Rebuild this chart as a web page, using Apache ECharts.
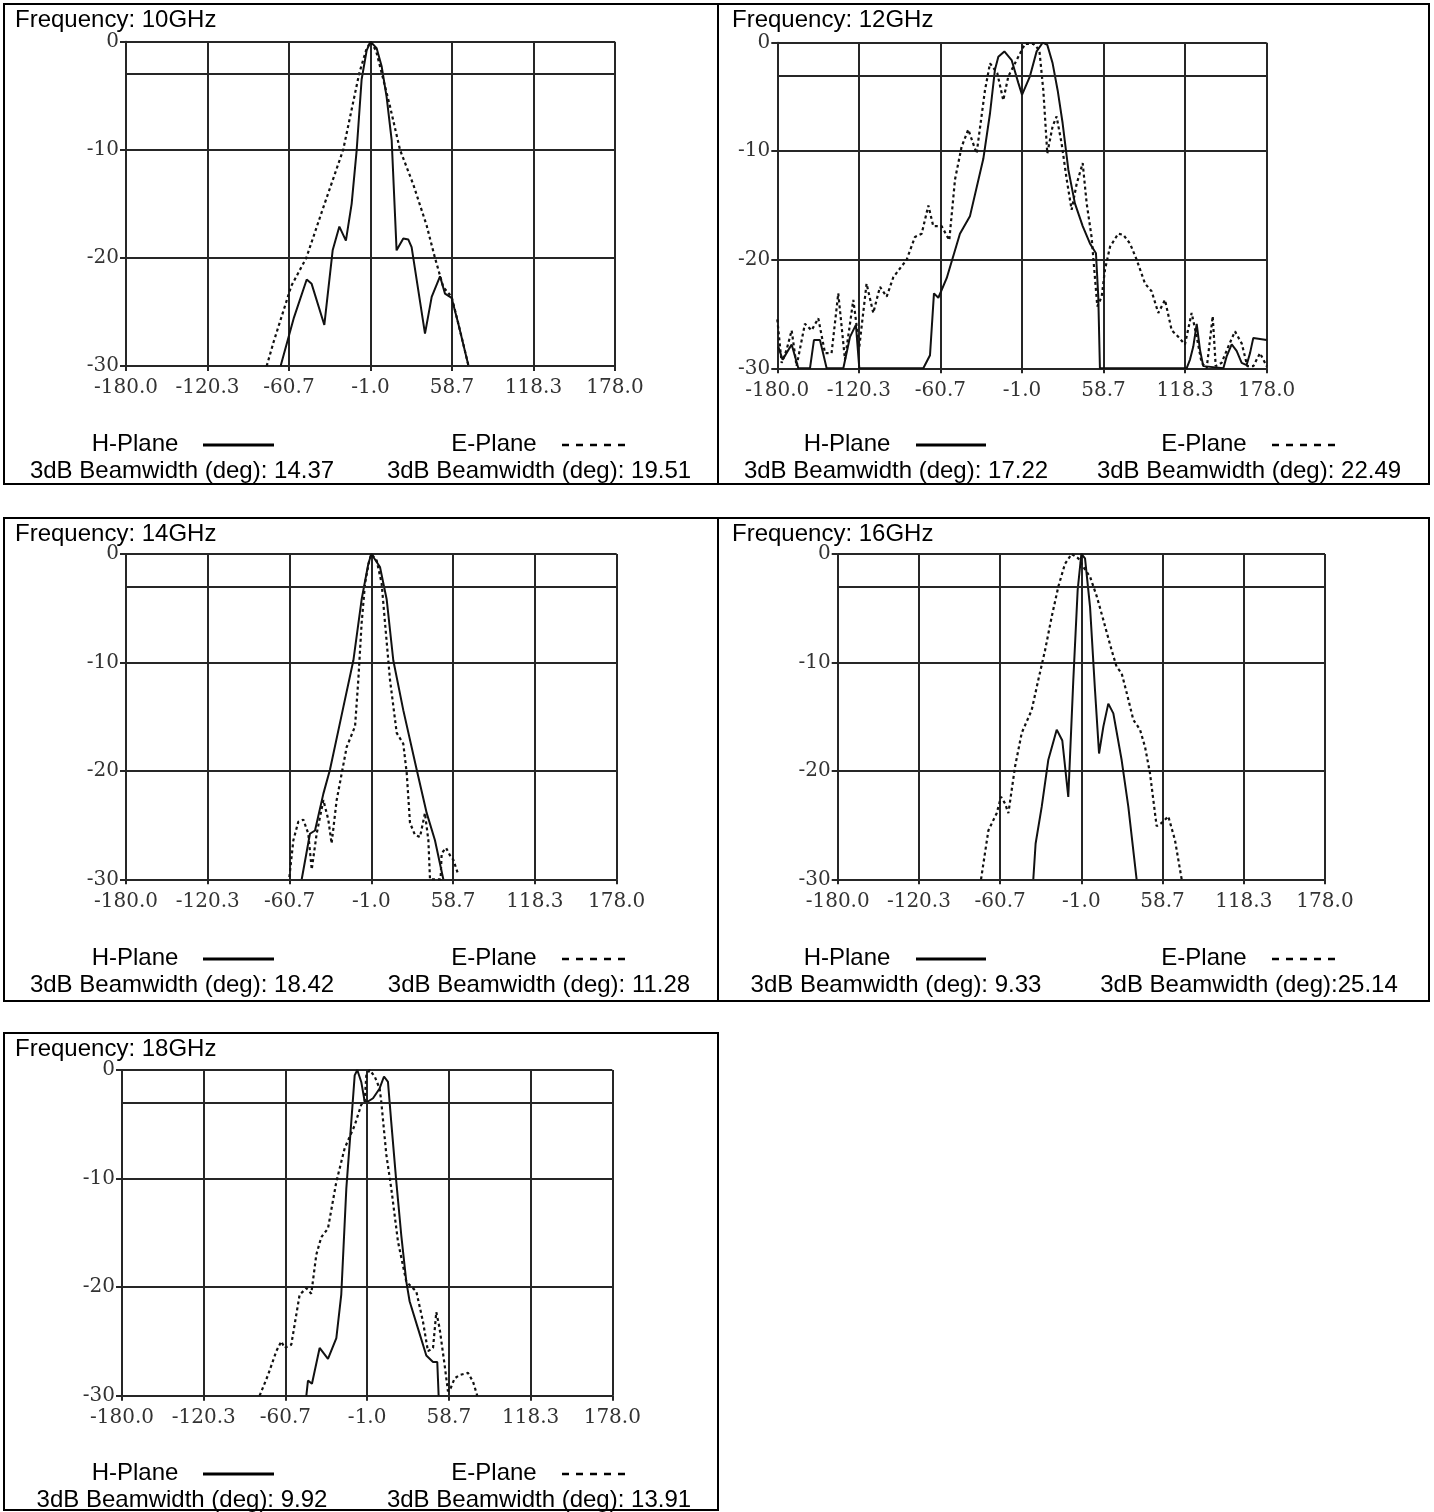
<!DOCTYPE html>
<html><head><meta charset="utf-8">
<script src="https://cdn.jsdelivr.net/npm/echarts@6/dist/echarts.min.js"></script>
<style>html,body{margin:0;padding:0;background:#fff}#c{width:1434px;height:1512px}</style>
</head><body><div id="c"></div>
<script>
// ---------- data ----------
const xTickLabels = ['-180.0', '-120.3', '-60.7', '-1.0', '58.7', '118.3', '178.0'];
const xMin = -180, xMax = 178;
const yMin = -30, yMax = 0, yStep = 10;
const halfPowerLevel = -3;

const titles = ['Frequency: 10GHz', 'Frequency: 12GHz', 'Frequency: 14GHz', 'Frequency: 16GHz', 'Frequency: 18GHz'];
const hLabels = ['3dB Beamwidth (deg): 14.37', '3dB Beamwidth (deg): 17.22', '3dB Beamwidth (deg): 18.42', '3dB Beamwidth (deg): 9.33', '3dB Beamwidth (deg): 9.92'];
const eLabels = ['3dB Beamwidth (deg): 19.51', '3dB Beamwidth (deg): 22.49', '3dB Beamwidth (deg): 11.28', '3dB Beamwidth (deg):25.14', '3dB Beamwidth (deg): 13.91'];

// [angle deg, level dB]
const h10 = [[-66.8,-30],[-57,-25.5],[-47.7,-22.0],[-44.1,-22.4],[-34.8,-26.2],[-28.7,-19.3],[-23.8,-17.1],[-19.0,-18.4],[-14.8,-15.0],[-11.1,-10.0],[-7.5,-3.5],[-3.8,-0.8],[-1,0],[3.5,-0.6],[7.2,-2.3],[10.8,-5.1],[14.5,-9.1],[18.1,-19.3],[23.0,-18.2],[26.7,-18.3],[29.1,-19.0],[38.9,-27.0],[43.8,-23.6],[49.9,-21.7],[53.5,-23.3],[58.4,-23.7],[63.3,-26.1],[70.6,-29.9]];
const e10 = [[-77,-30],[-72,-27.8],[-65,-25],[-59,-22.6],[-48,-20],[-36,-15.5],[-21,-10],[-9.2,-2.9],[-4,-0.7],[-1,0],[3,-0.8],[7.2,-2.9],[13.3,-6],[20.6,-10],[30.3,-13.2],[40.1,-17],[46.2,-20],[52.3,-22.7],[58.4,-23.6],[64.5,-26.7],[70.6,-29.9]];

const h12 = [[-179.3,-28.0],[-176.1,-29.2],[-169.5,-27.8],[-164.6,-30],[-156.1,-30],[-153.2,-27.4],[-148.8,-27.4],[-143.9,-30],[-131.7,-30],[-126.8,-27.1],[-122.5,-26.0],[-120.0,-30],[-73.2,-30],[-68.3,-28.8],[-65.4,-23.1],[-62.2,-23.5],[-56.1,-21.7],[-46.4,-17.6],[-39.1,-16.0],[-29.3,-10.7],[-24.4,-6.5],[-20.8,-2.5],[-18.3,-1.3],[-13.9,-0.8],[-8.6,-1.6],[-3.7,-3.7],[-1,-4.8],[4.8,-3.1],[9.7,-0.8],[14.1,0],[17.5,-0.2],[21.4,-1.9],[25.1,-4.4],[28.7,-7.4],[32.9,-11.7],[37.7,-14.8],[43.4,-16.9],[48.7,-18.5],[53.1,-19.4],[54.8,-23.4],[56.0,-30],[119.4,-30],[121.9,-29.2],[124.3,-28.0],[126.8,-25.9],[129.2,-28.3],[131.6,-29.8],[146.3,-30],[148.7,-28.9],[152.4,-27.8],[156.0,-28.4],[159.7,-29.5],[163.3,-29.7],[165.8,-28.6],[168.2,-27.2],[178,-27.4]];
const e12 = [[-180,-25.5],[-176.8,-29.5],[-173.2,-28.3],[-169.5,-26.5],[-165.9,-29.8],[-159.8,-25.9],[-154.9,-26.5],[-150.0,-25.4],[-145.1,-28.6],[-140.3,-28.6],[-135.4,-23.1],[-130.5,-29.2],[-124.4,-23.7],[-120.0,-28.0],[-114.7,-22.2],[-109.8,-24.9],[-104.9,-22.5],[-100.0,-23.4],[-95.1,-21.6],[-85.4,-20.0],[-79.3,-17.9],[-74.4,-17.6],[-69.5,-15.0],[-65.9,-16.9],[-59.8,-16.9],[-54.2,-18.2],[-50.0,-12.6],[-45.2,-9.6],[-40.3,-8.0],[-34.2,-10.2],[-28.1,-4.4],[-24.4,-1.9],[-19.1,-2.8],[-14.7,-5.3],[-11.0,-3.1],[-4.9,-1.6],[1.2,-0.1],[7.3,-0.1],[11.7,-0.7],[14.6,-4.4],[17.5,-10.2],[21.4,-7.7],[24.3,-6.8],[28.0,-9.3],[31.7,-12.6],[35.3,-15.4],[39.0,-13.0],[43.4,-11.1],[46.3,-14.8],[49.9,-17.9],[54.1,-24.3],[57.3,-23.4],[59.7,-20.9],[63.4,-18.8],[69.4,-17.6],[73.1,-17.7],[78.0,-18.5],[82.9,-20.0],[89.0,-22.2],[93.8,-22.9],[98.7,-24.9],[103.6,-23.7],[108.5,-26.5],[113.3,-27.1],[118.2,-27.8],[123.1,-24.9],[126.8,-27.1],[130.4,-29.5],[134.1,-30],[138.5,-25.2],[140.7,-29.8],[145.0,-29.5],[149.9,-28.0],[154.8,-26.6],[159.7,-27.7],[163.8,-29.8],[168.2,-29.8],[173.1,-28.6],[178,-29.8]];

const h14 = [[-51.8,-30],[-45.8,-25.8],[-42.1,-25.5],[-36.0,-22.1],[-31.2,-19.9],[-21.4,-14.1],[-14.1,-9.8],[-8.1,-4.2],[-3.2,-0.9],[-1,0],[5.3,-1.2],[10.2,-4.2],[15.0,-9.8],[22.3,-14.4],[32.1,-19.9],[39.4,-23.9],[45.4,-26.4],[51.5,-30]];
const e14 = [[-60.8,-29.8],[-57.9,-26.4],[-54.3,-24.7],[-50.6,-24.5],[-47.0,-25.8],[-44.5,-29.1],[-40.9,-25.8],[-36.0,-22.7],[-32.4,-24.5],[-30.0,-26.7],[-26.3,-22.7],[-19.0,-17.8],[-12.9,-15.9],[-10.5,-11.6],[-8.1,-6.4],[-5.6,-2.7],[-2.5,-0.6],[-1,0],[2.9,-0.6],[6.5,-2.7],[9.0,-6.4],[12.6,-11.6],[17.5,-16.5],[22.3,-17.5],[24.8,-20.2],[27.2,-24.8],[30.8,-25.9],[34.5,-26.1],[38.1,-23.9],[40.6,-26.4],[41.8,-30],[49.5,-30],[50.3,-27.6],[53.5,-27.1],[56.4,-27.8],[58.8,-28.2],[62.5,-29.6]];

const h16 = [[-36.3,-30],[-34.6,-26.7],[-30.1,-23.3],[-25.3,-19.0],[-19.1,-16.2],[-15.0,-17.2],[-10.6,-22.4],[-6.9,-11.6],[-3.7,-3.3],[-1,0],[1.7,-0.4],[5.4,-4.9],[9.0,-12.5],[12.0,-18.4],[15.2,-15.9],[18.8,-13.8],[22.5,-14.7],[28.6,-19.0],[33.5,-23.3],[39.6,-30]];
const e16 = [[-74.7,-30],[-69.3,-25.5],[-63.2,-23.9],[-60.0,-22.4],[-57.1,-23.0],[-54.6,-23.9],[-49.7,-19.6],[-44.8,-16.5],[-37.5,-14.4],[-32.6,-11.6],[-27.7,-8.9],[-22.8,-5.8],[-17.9,-3.0],[-13.0,-0.9],[-8.1,0],[-3.2,-0.4],[0.5,-1.2],[5.4,-2.1],[10.3,-3.9],[15.2,-6.1],[21.3,-8.9],[24.9,-10.4],[28.6,-11.0],[32.3,-12.8],[37.2,-15.3],[42.1,-16.2],[45.8,-17.8],[49.4,-20.2],[54.3,-25.1],[58.0,-24.8],[62.9,-24.2],[67.8,-26.4],[72.7,-30]];

const h18 = [[-45.4,-30],[-44.2,-28.6],[-41.3,-28.9],[-35.7,-25.6],[-29.6,-26.6],[-23.5,-24.7],[-19.9,-20.7],[-16.2,-10.9],[-12.6,-4.8],[-10.1,-0.5],[-8.2,0],[-5.3,-1.1],[-2.8,-2.9],[-0.4,-2.9],[3.3,-2.6],[8.1,-1.7],[11.3,-0.6],[14.2,-1.1],[16.6,-4.8],[20.3,-10.3],[23.9,-15.2],[27.6,-19.5],[30.0,-21.3],[36.1,-23.8],[42.2,-26.3],[47.1,-26.9],[50.2,-26.9],[51.2,-30]];
const e18 = [[-79.5,-30],[-73.4,-28.1],[-67.3,-25.9],[-63.7,-25.0],[-61.2,-25.6],[-56.4,-25.3],[-50.3,-20.7],[-45.4,-20.1],[-41.8,-20.6],[-38.1,-17.0],[-34.5,-15.4],[-29.6,-14.6],[-23.5,-10.3],[-17.4,-7.2],[-10.1,-5.1],[-5.3,-3.2],[-2.8,-2.9],[-1.6,-0.5],[0.8,0],[4.5,-0.6],[8.1,-1.7],[9.3,-2.9],[13.0,-7.8],[16.6,-10.9],[21.5,-15.8],[27.6,-19.5],[34.9,-20.4],[39.8,-23.2],[43.4,-25.9],[47.1,-25.6],[49.5,-22.3],[51.9,-23.8],[55.6,-27.2],[58.0,-29.6],[60.0,-29.3],[62.9,-28.4],[66.5,-28.1],[72.6,-27.9],[76.3,-28.7],[79.4,-30]];

const hSeries = [h10, h12, h14, h16, h18];
const eSeries = [e10, e12, e14, e16, e18];

// ---------- layout / style ----------
const layout = [
  { box: [4, 4, 714, 480],    grid: [126, 41.7, 489, 324.3],   right: false },
  { box: [718, 4, 711, 480],  grid: [777.3, 42.7, 489.4, 325.6], right: true },
  { box: [4, 518, 714, 483],  grid: [126, 554, 490.7, 325.3],  right: false },
  { box: [718, 518, 711, 483], grid: [837.7, 554, 487.3, 325.3], right: true },
  { box: [4, 1033, 714, 477], grid: [122, 1070, 490.3, 325.7], right: false }
];
const legendLeft  = { title: 11, h: 131, s1: 199, s2: 270, e: 490, d1: 558, d2: 622, bw1: 178, bw2: 535 };
const legendRight = { title: 14, h: 129, s1: 198, s2: 268, e: 486, d1: 554, d2: 619, bw1: 178, bw2: 531 };

const gridColor = '#262626';
const gridWidth = 2;
const textFont = '24px "Liberation Sans", Arial, sans-serif';
const tickFont = 'DejaVu Serif';
const tickSize = 20;

const grids = [], xAxes = [], yAxes = [], series = [], graphics = [];

function txt(x, y, s, align) {
  return { type: 'text', x: x, y: y, silent: true,
    style: { text: s, font: textFont, fill: '#000', align: align, textAlign: align,
             verticalAlign: 'middle', textVerticalAlign: 'middle' } };
}

layout.forEach(function (L, i) {
  const g = L.grid;
  grids.push({ left: g[0], top: g[1], width: g[2], height: g[3], containLabel: false, show: false });
  // hidden numeric axis used for placing the measured points
  xAxes.push({ gridIndex: i, type: 'value', min: xMin, max: xMax, show: false, position: 'top' });
  // tick / grid axis
  xAxes.push({
    gridIndex: i, type: 'category', data: xTickLabels, boundaryGap: false, position: 'bottom',
    axisLine: { show: true, onZero: false, lineStyle: { color: gridColor, width: gridWidth } },
    axisTick: { show: true, interval: 0, length: 5, lineStyle: { color: gridColor, width: gridWidth } },
    axisLabel: { interval: 0, margin: 12, fontFamily: tickFont, fontSize: tickSize, color: '#333' },
    splitLine: { show: true, interval: 0, lineStyle: { color: gridColor, width: gridWidth } }
  });
  yAxes.push({
    gridIndex: i, type: 'value', min: yMin, max: yMax, interval: yStep,
    axisLine: { show: true, onZero: false, lineStyle: { color: gridColor, width: gridWidth } },
    axisTick: { show: true, length: 6, lineStyle: { color: gridColor, width: gridWidth } },
    axisLabel: { margin: 7, fontFamily: tickFont, fontSize: tickSize, color: '#333' },
    splitLine: { show: true, lineStyle: { color: gridColor, width: gridWidth } }
  });
  series.push({
    name: 'H-Plane', type: 'line', xAxisIndex: 2 * i, yAxisIndex: i, data: hSeries[i],
    symbol: 'none', showSymbol: false, silent: true, clip: true, z: 3,
    lineStyle: { color: '#111', width: 2, type: 'solid' },
    markLine: { silent: true, symbol: ['none', 'none'], label: { show: false },
      lineStyle: { color: gridColor, width: gridWidth, type: 'solid' },
      emphasis: { disabled: true }, data: [{ yAxis: halfPowerLevel }] }
  });
  series.push({
    name: 'E-Plane', type: 'line', xAxisIndex: 2 * i, yAxisIndex: i, data: eSeries[i],
    symbol: 'none', showSymbol: false, silent: true, clip: true, z: 3,
    lineStyle: { color: '#111', width: 2.2, type: [3, 3] }
  });

  // panel frame, title and legend block
  const b = L.box, P = L.right ? legendRight : legendLeft;
  graphics.push({ type: 'rect', silent: true, shape: { x: b[0], y: b[1], width: b[2], height: b[3] },
    style: { fill: 'none', stroke: '#000', lineWidth: 2 } });
  graphics.push(txt(b[0] + P.title, b[1] + 16.5, titles[i], 'left'));
  const r1 = b[1] + 440, r2 = b[1] + 467;
  graphics.push(txt(b[0] + P.h, r1, 'H-Plane', 'center'));
  graphics.push({ type: 'line', silent: true, shape: { x1: b[0] + P.s1, y1: r1 + 1, x2: b[0] + P.s2, y2: r1 + 1 },
    style: { stroke: '#000', lineWidth: 3 } });
  graphics.push(txt(b[0] + P.e, r1, 'E-Plane', 'center'));
  graphics.push({ type: 'line', silent: true, shape: { x1: b[0] + P.d1, y1: r1 + 1, x2: b[0] + P.d2, y2: r1 + 1 },
    style: { stroke: '#000', lineWidth: 2.5, lineDash: [7, 7] } });
  graphics.push(txt(b[0] + P.bw1, r2, hLabels[i], 'center'));
  graphics.push(txt(b[0] + P.bw2, r2, eLabels[i], 'center'));
});

const chart = echarts.init(document.getElementById('c'), null, { renderer: 'canvas' });
chart.setOption({
  animation: false,
  backgroundColor: '#fff',
  grid: grids,
  xAxis: xAxes,
  yAxis: yAxes,
  series: series,
  graphic: { elements: graphics }
});
</script>
</body></html>
